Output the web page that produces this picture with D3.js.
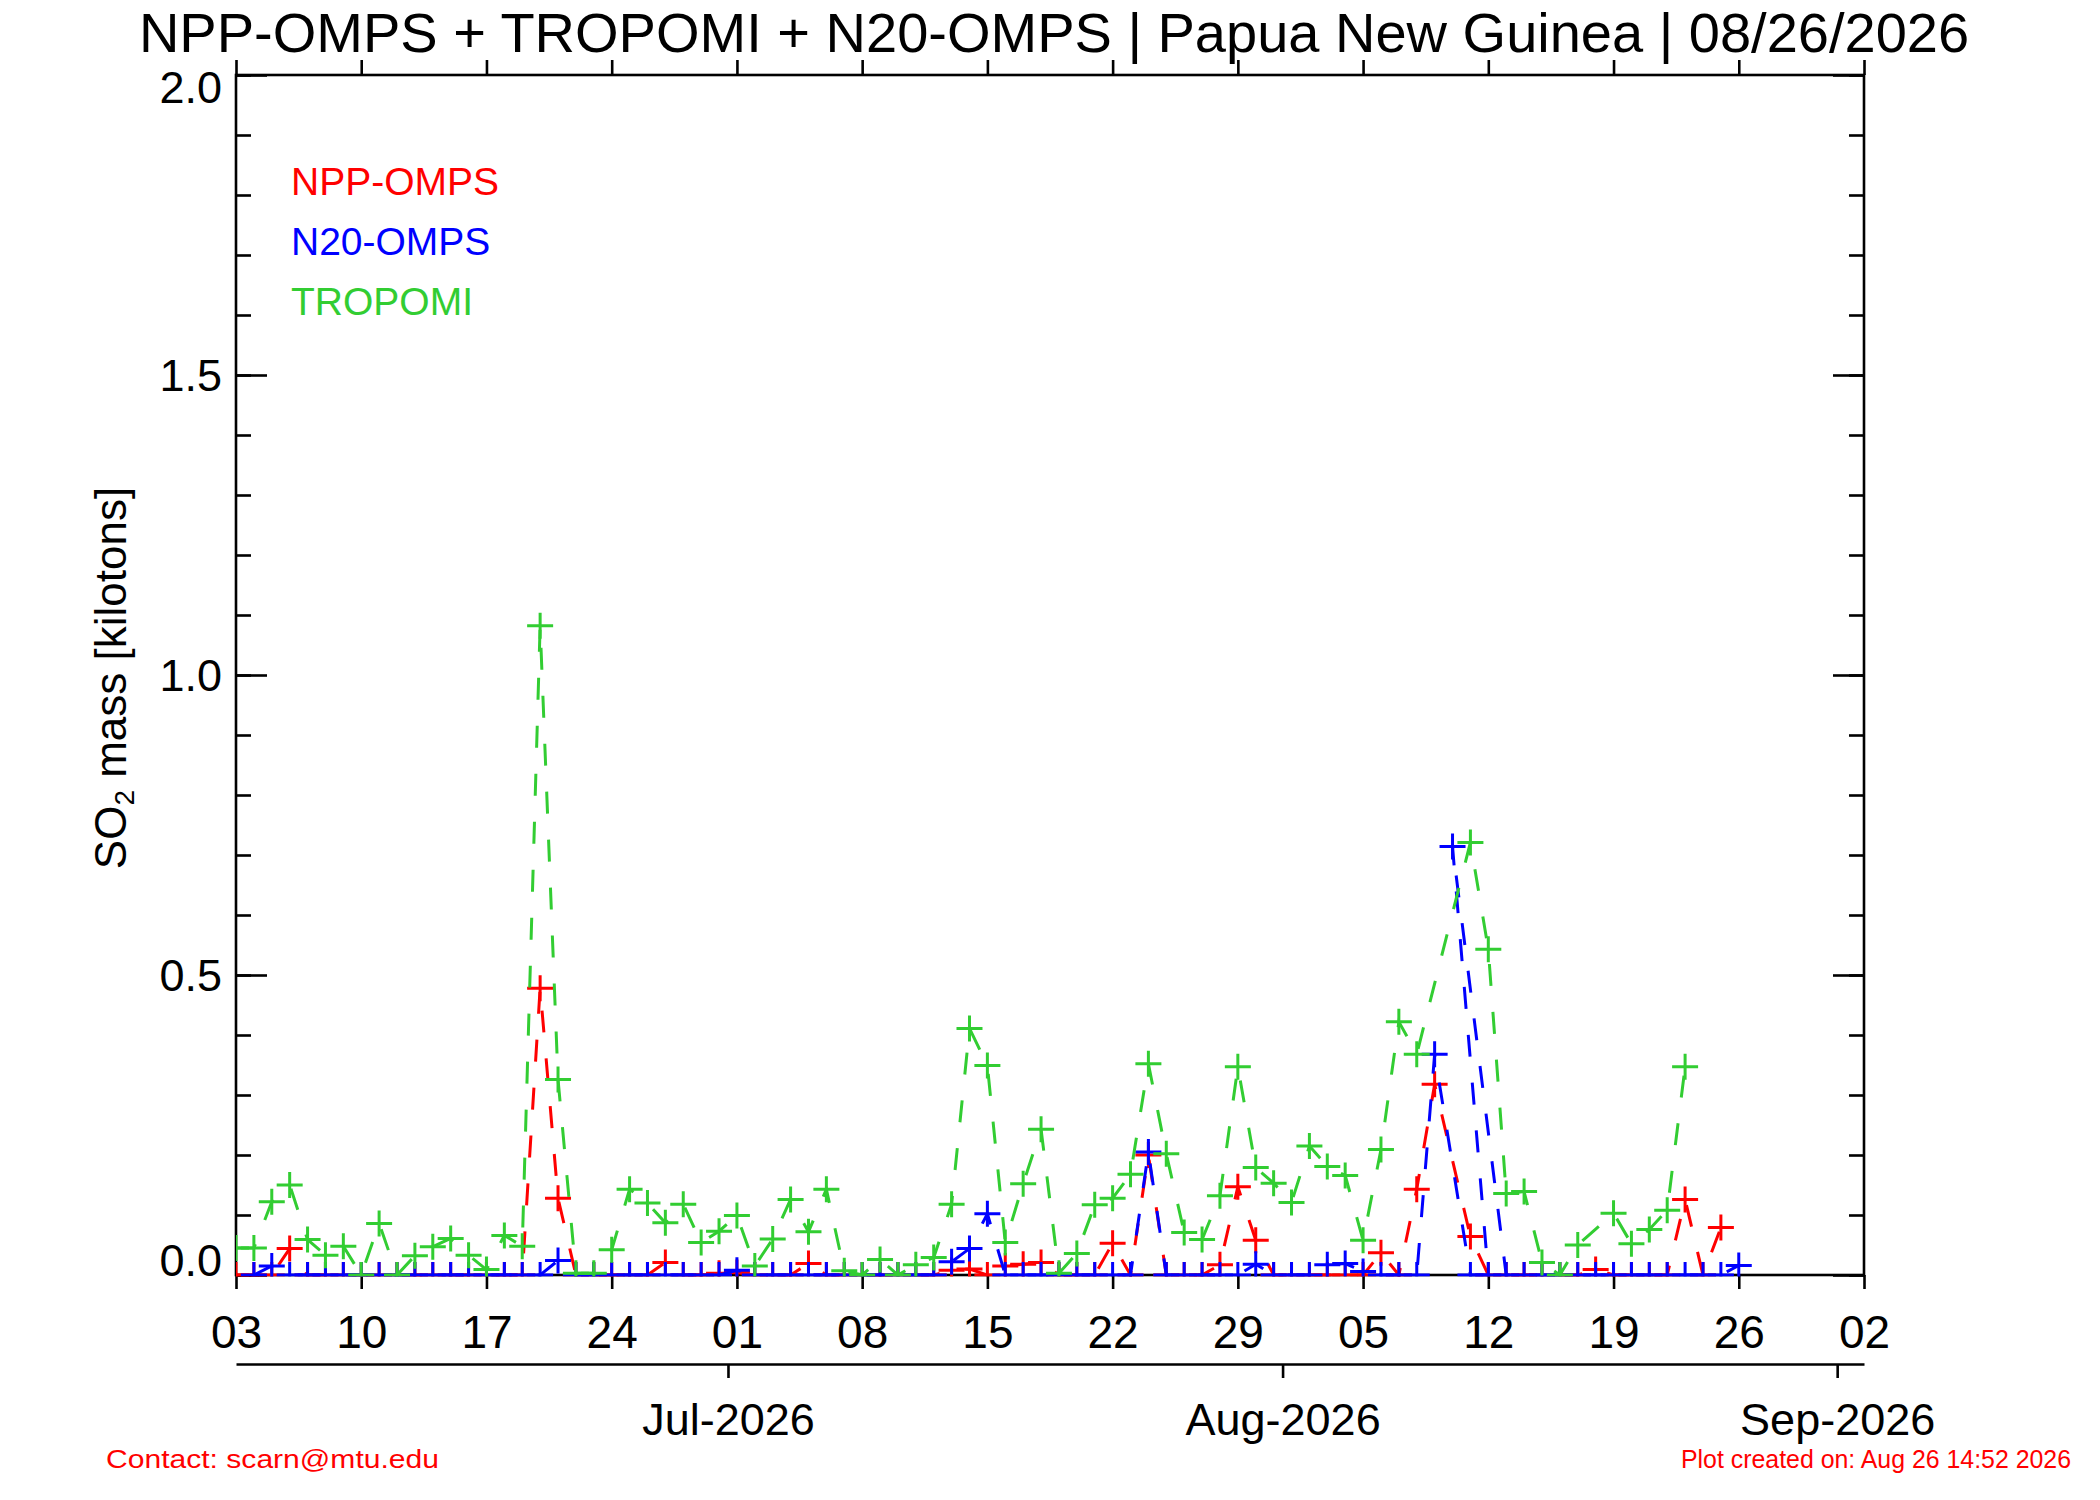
<!DOCTYPE html>
<html>
<head>
<meta charset="utf-8">
<script src="https://cdn.jsdelivr.net/npm/d3@7"></script>
<style>
body { margin: 0; background: #fff; }
text { font-family: "Liberation Sans", Arial, Helvetica, sans-serif; }
</style>
</head>
<body>
<svg id="chart" width="2100" height="1500"></svg>
<script>
// ---- data (daily values, index 0 = 06/03/2026, null = no retrieval) ----
var startDate = new Date(Date.UTC(2026, 5, 3));
var endDate = new Date(Date.UTC(2026, 8, 2));
var yMajorTicks = [0, 0.5, 1.0, 1.5, 2.0];
var monthTicks = ["2026-07-01", "2026-08-01", "2026-09-01"];
var monthLabels = ["Jul-2026", "Aug-2026", "Sep-2026"];
var seriesNames = ["NPP-OMPS", "N20-OMPS", "TROPOMI"];
var seriesColors = ["#ff0000", "#0000ff", "#32cd32"];

var nppValues = [
    0, 0, 0, 0.044, 0, 0, 0,
    0, 0, 0, 0, 0, 0, 0,
    0, 0, 0, 0.478, 0.128, 0, 0,
    0, 0, 0, 0.021, 0, 0, 0.003,
    0.004, 0, 0, 0, 0.019, 0, 0,
    0, 0, 0, 0, 0, 0.008, 0.010,
    0, 0.015, 0.018, 0.021, 0, 0, 0,
    0.053, 0, 0.200, 0, 0, 0, 0.017,
    0.147, 0.058, 0, 0, 0, 0, 0,
    0, 0.037, 0, 0.143, 0.318, null, 0.064,
    0, 0, 0, 0, 0, 0, 0.009,
    0, 0, 0, 0, 0.126, 0, 0.079
];

var n20Values = [
    null, 0, 0.015, 0, 0, 0, 0,
    0, 0, 0, 0, 0, 0, 0,
    0, 0, 0, 0, 0.024, 0, 0,
    0, 0, 0, 0, 0, 0, 0,
    0.008, 0, 0, 0, 0, 0, 0,
    0, 0, 0, 0, 0, 0.022, 0.044,
    0.102, 0, 0, 0, 0, 0, 0,
    0, 0, 0.205, 0, 0, 0, 0,
    0, 0.018, 0, 0, 0, 0.017, 0.019,
    0.006, 0, 0, 0, 0.368, 0.714, 0,
    0, 0, 0, 0, 0, 0, 0,
    0, 0, 0, 0, 0, 0, 0,
    0.016
];
// the 08/10 N20 retrieval sits after 08/12 in the file, so the line is drawn that way
var n20LateDay = 68;
var n20LateAfter = 70;

var tropomiValues = [
    0.045, 0.045, 0.122, 0.150, 0.059, 0.033, 0.048,
    0, 0.086, 0, 0.032, 0.047, 0.061, 0.033,
    0.009, 0.066, 0.048, 1.082, 0.326, 0.003, 0.003,
    0.042, 0.143, 0.120, 0.087, 0.118, 0.054, 0.073,
    0.099, 0.015, 0.060, 0.126, 0.072, 0.143, 0.007,
    0, 0.026, 0, 0.017, 0.029, 0.118, 0.411,
    0.349, 0.054, 0.152, 0.243, 0.003, 0.036, 0.117,
    0.128, 0.168, 0.352, 0.202, 0.071, 0.059, 0.132,
    0.347, 0.179, 0.153, 0.121, 0.215, 0.181, 0.166,
    0.058, 0.209, 0.422, 0.368, null, null, 0.721,
    0.543, 0.136, 0.139, 0.021, 0, 0.050, null,
    0.103, 0.052, 0.076, 0.108, 0.347
];

// ---- layout ----
var margin = {left: 236, right: 236, top: 75, bottom: 225};
var width = 2100 - margin.left - margin.right;
var height = 1500 - margin.top - margin.bottom;
var axisWidth = 2.6;

var svg = d3.select("#chart");

var xScale = d3.scaleUtc().domain([startDate, endDate]).range([margin.left, margin.left + width]);
var yScale = d3.scaleLinear().domain([0, 2]).range([margin.top + height, margin.top]);

function dayDate(i) { return d3.utcDay.offset(startDate, i); }

var weekTicks = d3.range(0, d3.utcDay.count(startDate, endDate) + 1, 7).map(dayDate);
var minorTicks = d3.range(0, 21).map(function (i) { return i / 10; });

function styleAxis(g) {
    g.selectAll("line").attr("stroke", "#000").attr("stroke-width", axisWidth);
    g.selectAll("path").remove();
    g.selectAll("text").attr("fill", "#000").attr("font-family", null);
}

// bottom axis with day labels
svg.append("g")
    .attr("transform", "translate(0," + (margin.top + height) + ")")
    .call(d3.axisBottom(xScale).tickValues(weekTicks).tickSize(14).tickPadding(26)
        .tickFormat(d3.utcFormat("%d")))
    .call(styleAxis)
    .selectAll("text").attr("font-size", 46);

// top axis, ticks only
svg.append("g")
    .attr("transform", "translate(0," + margin.top + ")")
    .call(d3.axisTop(xScale).tickValues(weekTicks).tickSize(15).tickFormat(""))
    .call(styleAxis);

// left axis: inward ticks
svg.append("g")
    .attr("transform", "translate(" + margin.left + ",0)")
    .call(d3.axisRight(yScale).tickValues(minorTicks).tickSize(15).tickFormat(""))
    .call(styleAxis);
svg.append("g")
    .attr("transform", "translate(" + margin.left + ",0)")
    .call(d3.axisRight(yScale).tickValues(yMajorTicks).tickSize(31).tickFormat(""))
    .call(styleAxis);

// left labels
svg.append("g")
    .attr("transform", "translate(" + margin.left + ",0)")
    .call(d3.axisLeft(yScale).tickValues(yMajorTicks).tickSize(0).tickPadding(14)
        .tickFormat(d3.format(".1f")))
    .call(styleAxis)
    .selectAll("text")
    .attr("font-size", 45)
    .attr("dy", function (d) { return d === 2 ? 27 : (d === 0 ? 0 : 15); });

// right axis: inward ticks
svg.append("g")
    .attr("transform", "translate(" + (margin.left + width) + ",0)")
    .call(d3.axisLeft(yScale).tickValues(minorTicks).tickSize(15).tickFormat(""))
    .call(styleAxis);
svg.append("g")
    .attr("transform", "translate(" + (margin.left + width) + ",0)")
    .call(d3.axisLeft(yScale).tickValues(yMajorTicks).tickSize(31).tickFormat(""))
    .call(styleAxis);

// frame
svg.append("rect")
    .attr("x", margin.left).attr("y", margin.top)
    .attr("width", width).attr("height", height)
    .attr("fill", "none").attr("stroke", "#000").attr("stroke-width", axisWidth);

// month axis underneath
var monthDates = monthTicks.map(function (s) {
    return d3.utcHour.offset(new Date(s + "T00:00:00Z"), -12);
});
var monthAxis = svg.append("g")
    .attr("transform", "translate(0," + (margin.top + height + 89) + ")")
    .call(d3.axisBottom(xScale).tickValues(monthDates).tickSize(14).tickSizeOuter(0).tickPadding(25)
        .tickFormat(function (d, i) { return monthLabels[i]; }));
monthAxis.select(".domain").attr("stroke", "#000").attr("stroke-width", axisWidth);
monthAxis.selectAll("line").attr("stroke", "#000").attr("stroke-width", axisWidth);
monthAxis.selectAll("text").attr("fill", "#000").attr("font-family", null).attr("font-size", 45);

// ---- data marks ----
svg.append("clipPath").attr("id", "plotClip")
    .append("rect")
    .attr("x", margin.left).attr("y", margin.top - 2)
    .attr("width", width).attr("height", height + 3.5);

function toPoints(values, order) {
    return order
        .filter(function (i) { return values[i] !== null && values[i] !== undefined; })
        .map(function (i) { return {date: dayDate(i), value: values[i]}; });
}

var nppOrder = d3.range(nppValues.length);
var tropomiOrder = d3.range(tropomiValues.length);
var n20Order = d3.range(n20Values.length).filter(function (i) { return i !== n20LateDay; });
n20Order.splice(n20Order.indexOf(n20LateAfter) + 1, 0, n20LateDay);

// drawing order: NPP, N20, then TROPOMI on top
var series = [
    {name: seriesNames[0], color: seriesColors[0], points: toPoints(nppValues, nppOrder)},
    {name: seriesNames[1], color: seriesColors[1], points: toPoints(n20Values, n20Order)},
    {name: seriesNames[2], color: seriesColors[2], points: toPoints(tropomiValues, tropomiOrder)}
];

var line = d3.line()
    .x(function (d) { return xScale(d.date); })
    .y(function (d) { return yScale(d.value); });

var plot = svg.append("g").attr("clip-path", "url(#plotClip)");

series.forEach(function (s) {
    var g = plot.append("g").attr("class", "series");
    g.append("path")
        .datum(s.points)
        .attr("d", line)
        .attr("fill", "none")
        .attr("stroke", s.color)
        .attr("stroke-width", 3)
        .attr("stroke-dasharray", "22,26");
    g.selectAll(".mark")
        .data(s.points)
        .enter()
        .append("path")
        .attr("class", "mark")
        .attr("transform", function (d) {
            return "translate(" + xScale(d.date) + "," + yScale(d.value) + ")";
        })
        .attr("d", "M-13,0H13M0,-13V13")
        .attr("stroke", s.color)
        .attr("stroke-width", 3)
        .attr("fill", "none");
});

// ---- legend ----
var legendOrder = [0, 1, 2];
svg.append("g").selectAll("text")
    .data(legendOrder)
    .enter()
    .append("text")
    .attr("x", 291)
    .attr("y", function (d, i) { return 195 + i * 60; })
    .attr("font-size", 39)
    .attr("fill", function (d) { return seriesColors[d]; })
    .text(function (d) { return seriesNames[d]; });

// ---- titles ----
svg.append("text")
    .attr("x", 1054).attr("y", 52)
    .attr("text-anchor", "middle")
    .attr("font-size", 56)
    .attr("fill", "#000")
    .text("NPP-OMPS + TROPOMI + N20-OMPS | Papua New Guinea | 08/26/2026");

var yLabel = svg.append("text")
    .attr("transform", "translate(126,678) rotate(-90)")
    .attr("text-anchor", "middle")
    .attr("font-size", 44)
    .attr("fill", "#000");
yLabel.append("tspan").text("SO");
yLabel.append("tspan").attr("font-size", 28).attr("dy", 8).text("2");
yLabel.append("tspan").attr("dy", -8).text(" mass [kilotons]");

svg.append("text")
    .attr("x", 106).attr("y", 1468)
    .attr("font-size", 25)
    .attr("fill", "#ff0000")
    .attr("textLength", 333)
    .attr("lengthAdjust", "spacingAndGlyphs")
    .text("Contact: scarn@mtu.edu");

svg.append("text")
    .attr("x", 1681).attr("y", 1468)
    .attr("font-size", 25)
    .attr("fill", "#ff0000")
    .attr("textLength", 390)
    .attr("lengthAdjust", "spacingAndGlyphs")
    .text("Plot created on: Aug 26 14:52 2026");
</script>
</body>
</html>
